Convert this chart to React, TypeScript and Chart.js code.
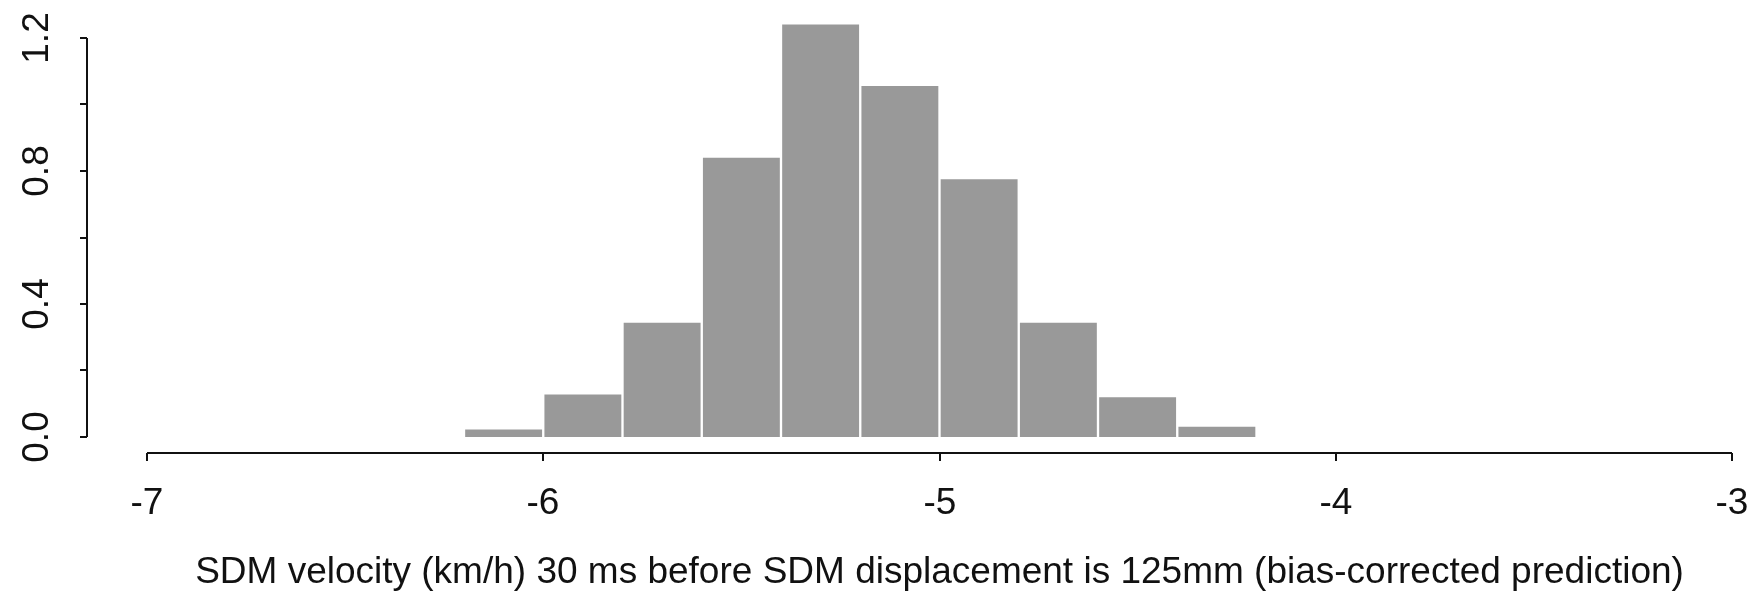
import React, { useEffect, useRef } from "react";
import { Chart, registerables } from "chart.js";

Chart.register(...registerables);

// Histogram bins (centres of 0.2-wide bins) and their densities
const binCenters = [-6.1, -5.9, -5.7, -5.5, -5.3, -5.1, -4.9, -4.7, -4.5, -4.3];
const densities = [0.026, 0.131, 0.347, 0.843, 1.244, 1.059, 0.779, 0.347, 0.123, 0.034];

// Axis ticks
const xTicks = [-7, -6, -5, -4, -3];
const xTickLabels = ["-7", "-6", "-5", "-4", "-3"];
const yTicks = [0, 0.2, 0.4, 0.6, 0.8, 1.0, 1.2];
const yTickLabels = ["0.0", "", "0.4", "", "0.8", "", "1.2"];

const xTitle =
  "SDM velocity (km/h) 30 ms before SDM displacement is 125mm (bias-corrected prediction)";

const FONT = "37px 'Liberation Sans', Arial, Helvetica, sans-serif";
const INK = "#111111";

const rAxesPlugin = {
  id: "rAxes",
  afterDraw(chart: any) {
    const { ctx, chartArea } = chart;
    const xs = chart.scales.x;
    const ys = chart.scales.y;
    ctx.save();
    ctx.strokeStyle = INK;
    ctx.fillStyle = INK;
    ctx.lineWidth = 2;
    ctx.font = FONT;

    // x axis (detached below the plot, R style)
    const axY = ys.getPixelForValue(0) + 16;
    const x0 = xs.getPixelForValue(xTicks[0]);
    const x1 = xs.getPixelForValue(xTicks[xTicks.length - 1]);
    ctx.beginPath();
    ctx.moveTo(x0, axY);
    ctx.lineTo(x1, axY);
    ctx.stroke();
    ctx.textAlign = "center";
    ctx.textBaseline = "alphabetic";
    xs.ticks.forEach((t: any, i: number) => {
      const px = Math.round(xs.getPixelForValue(t.value));
      ctx.beginPath();
      ctx.moveTo(px, axY);
      ctx.lineTo(px, axY + 8);
      ctx.stroke();
      ctx.fillText(xTickLabels[i] ?? String(t.value), px, axY + 61);
    });

    // y axis (detached left of the plot)
    const axX = chartArea.left - 60;
    const yb = ys.getPixelForValue(yTicks[0]);
    const yt = ys.getPixelForValue(yTicks[yTicks.length - 1]);
    ctx.beginPath();
    ctx.moveTo(axX, yb);
    ctx.lineTo(axX, yt);
    ctx.stroke();
    ys.ticks.forEach((t: any, i: number) => {
      const py = Math.round(ys.getPixelForValue(t.value));
      ctx.beginPath();
      ctx.moveTo(axX, py);
      ctx.lineTo(axX - 7, py);
      ctx.stroke();
      const lab = yTickLabels[i];
      if (lab) {
        ctx.save();
        ctx.translate(axX - 39, py);
        ctx.rotate(-Math.PI / 2);
        ctx.textAlign = "center";
        ctx.textBaseline = "alphabetic";
        ctx.fillText(lab, 0, 0);
        ctx.restore();
      }
    });

    // x title
    ctx.textAlign = "center";
    ctx.textBaseline = "alphabetic";
    ctx.fillText(xTitle, (chartArea.left + chartArea.right) / 2, axY + 130);
    ctx.restore();
  },
};

export default function App() {
  const canvasRef = useRef<HTMLCanvasElement | null>(null);

  useEffect(() => {
    document.body.style.margin = "0";
    const canvas = canvasRef.current;
    if (!canvas) return;
    const chart = new Chart(canvas, {
      type: "bar",
      data: {
        datasets: [
          {
            data: binCenters.map((c, i) => ({ x: c, y: densities[i] })),
            backgroundColor: "#999999",
            borderColor: "#ffffff",
            borderWidth: 1.5,
            borderSkipped: "start",
            barPercentage: 1,
            categoryPercentage: 1,
            clip: false,
          },
        ],
      },
      plugins: [rAxesPlugin],
      options: {
        animation: false,
        responsive: false,
        maintainAspectRatio: false,
        events: [],
        layout: { padding: { left: 147, right: 26, top: 38, bottom: 159 } },
        plugins: {
          legend: { display: false },
          tooltip: { enabled: false },
          title: { display: false },
        },
        scales: {
          x: {
            type: "linear",
            display: false,
            offset: false,
            grid: { offset: false },
            min: xTicks[0],
            max: xTicks[xTicks.length - 1],
            afterBuildTicks: (scale: any) => {
              scale.ticks = xTicks.map((v) => ({ value: v }));
            },
          },
          y: {
            type: "linear",
            display: false,
            min: yTicks[0],
            max: yTicks[yTicks.length - 1],
            afterBuildTicks: (scale: any) => {
              scale.ticks = yTicks.map((v) => ({ value: v }));
            },
          },
        },
      },
    });
    return () => chart.destroy();
  }, []);

  return (
    <div style={{ width: 1758, height: 596, background: "#ffffff" }}>
      <canvas ref={canvasRef} width={1758} height={596} style={{ display: "block" }} />
    </div>
  );
}
